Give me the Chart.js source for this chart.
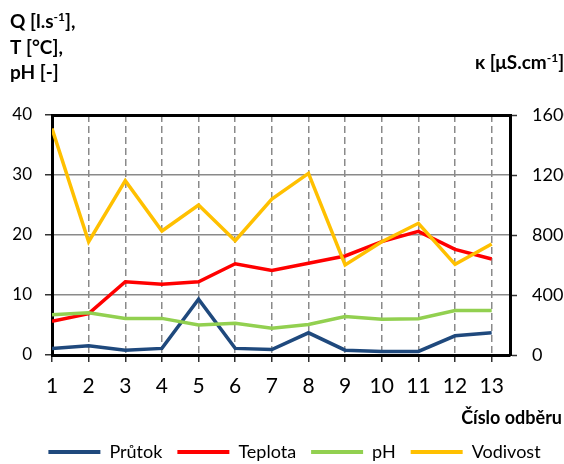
<!DOCTYPE html>
<html><head><meta charset="utf-8">
<script src="https://cdn.jsdelivr.net/npm/chart.js@4.4.0/dist/chart.umd.min.js"></script>
<style>html,body{margin:0;padding:0;background:#fff;}#wrap{width:564px;height:464px;}</style>
</head><body><div id="wrap"><canvas id="c" width="564" height="464"></canvas></div>
<script>
const categories = ['1','2','3','4','5','6','7','8','9','10','11','12','13'];
const prutok   = [1.1, 1.55, 0.8, 1.1, 9.3, 1.1, 0.9, 3.7, 0.8, 0.6, 0.6, 3.2, 3.7];
const teplota  = [5.6, 6.9, 12.2, 11.8, 12.2, 15.2, 14.1, 15.3, 16.5, 18.9, 20.6, 17.6, 16.0];
const ph       = [6.7, 7.05, 6.1, 6.1, 5.0, 5.3, 4.45, 5.1, 6.4, 5.95, 6.05, 7.4, 7.4];
const vodivost = [1510, 755, 1162, 827, 1000, 762, 1040, 1211, 600, 755, 878, 604, 740];
const leftTicks  = [0, 10, 20, 30, 40];
const rightTicks = [0, 400, 800, 1200, 1600];
const seriesNames = ['Průtok', 'Teplota', 'pH', 'Vodivost'];
const seriesColors = ['#1F497D', '#FF0000', '#92D050', '#FFC000'];

const pts = arr => arr.map((v, i) => ({x: i + 1, y: v}));
const FONT = 'Lato';

function drawRich(ctx, x, y, parts) {
  let cx = x;
  parts.forEach(p => {
    ctx.font = p.sup ? 'bold 12px ' + FONT : 'bold 19px ' + FONT;
    ctx.fillText(p.t, cx, p.sup ? y - 7 : y);
    cx += ctx.measureText(p.t).width;
  });
}

const titlesPlugin = {
  id: 'titles',
  afterLayout(chart) {
    if (chart.legend) { chart.legend.left = 25; }
  },
  afterDraw(chart) {
    const ctx = chart.ctx;
    ctx.save();
    ctx.fillStyle = '#000';
    ctx.textBaseline = 'alphabetic';
    ctx.textAlign = 'left';
    drawRich(ctx, 10, 28, [{t: 'Q [l.s'}, {t: '-1', sup: true}, {t: '],'}]);
    drawRich(ctx, 10, 54, [{t: 'T [°C],'}]);
    drawRich(ctx, 10, 79, [{t: 'pH [-]'}]);
    drawRich(ctx, 475, 69, [{t: 'κ [μS.cm'}, {t: '-1', sup: true}, {t: ']'}]);
    ctx.font = 'bold 18px ' + FONT;
    ctx.textAlign = 'right';
    ctx.fillText('Číslo odběru', 562, 424);
    ctx.restore();
  }
};

const datasets = [prutok, teplota, ph, vodivost].map((arr, i) => ({
  label: seriesNames[i],
  data: pts(arr),
  yAxisID: i === 3 ? 'y1' : 'y',
  xAxisID: 'x',
  borderColor: seriesColors[i],
  backgroundColor: seriesColors[i],
  borderWidth: 3.5,
  pointRadius: 0,
  tension: 0,
  order: 4 - i
}));

new Chart(document.getElementById('c'), {
  type: 'line',
  data: {datasets},
  options: {
    responsive: false,
    animation: false,
    devicePixelRatio: 1,
    layout: {padding: {left: 0, top: 115, right: 0, bottom: -7}},
    plugins: {
      tooltip: {enabled: false},
      legend: {
        position: 'bottom',
        labels: {
          font: {family: FONT, size: 18},
          color: '#000',
          boxWidth: 52,
          boxHeight: 4,
          padding: 15,
          sort: (a, b) => a.datasetIndex - b.datasetIndex,
          generateLabels: (chart) => chart.data.datasets.map((d, i) => ({
            text: d.label, fillStyle: d.borderColor, strokeStyle: d.borderColor,
            lineWidth: 0, hidden: false, datasetIndex: i, fontColor: '#000'
          }))
        }
      }
    },
    scales: {
      x: {
        type: 'linear', position: 'bottom', min: 1, max: 13.5,
        afterBuildTicks: s => { s.ticks = categories.map((c, i) => ({value: i + 1})); },
        afterFit: s => { s.height = 73; },
        ticks: {
          callback: v => categories[v - 1] ?? '',
          font: {family: FONT, size: 21}, color: '#000', padding: 12, maxRotation: 0, autoSkip: false
        },
        grid: {
          color: '#8a8a8a', lineWidth: 1.5, tickBorderDash: [],
          tickColor: '#333', tickWidth: 1.5, tickLength: 7, drawTicks: true
        },
        border: {color: '#000', width: 3, dash: [7, 4]}
      },
      xTop: {
        type: 'linear', position: 'top', min: 1, max: 13.5,
        afterFit: s => { s.height = 0; },
        ticks: {display: false},
        grid: {display: false, drawTicks: false},
        border: {color: '#000', width: 3}
      },
      y: {
        type: 'linear', position: 'left', min: 0, max: 40,
        afterBuildTicks: s => { s.ticks = leftTicks.map(v => ({value: v})); },
        afterFit: s => { s.width = 52; },
        ticks: {font: {family: FONT, size: 17}, color: '#000', padding: 13, callback: v => String(v)},
        grid: {color: '#8a8a8a', lineWidth: 1.5, tickColor: '#333', tickWidth: 1.5, tickLength: 7},
        border: {color: '#000', width: 3}
      },
      y1: {
        type: 'linear', position: 'right', min: 0, max: 1600,
        afterBuildTicks: s => { s.ticks = rightTicks.map(v => ({value: v})); },
        afterFit: s => { s.width = 54; },
        ticks: {font: {family: FONT, size: 18}, color: '#000', padding: 15, callback: v => String(v)},
        grid: {drawOnChartArea: false, tickColor: '#333', tickWidth: 1.5, tickLength: 7},
        border: {color: '#000', width: 3}
      }
    }
  },
  plugins: [titlesPlugin]
});
</script></body></html>
